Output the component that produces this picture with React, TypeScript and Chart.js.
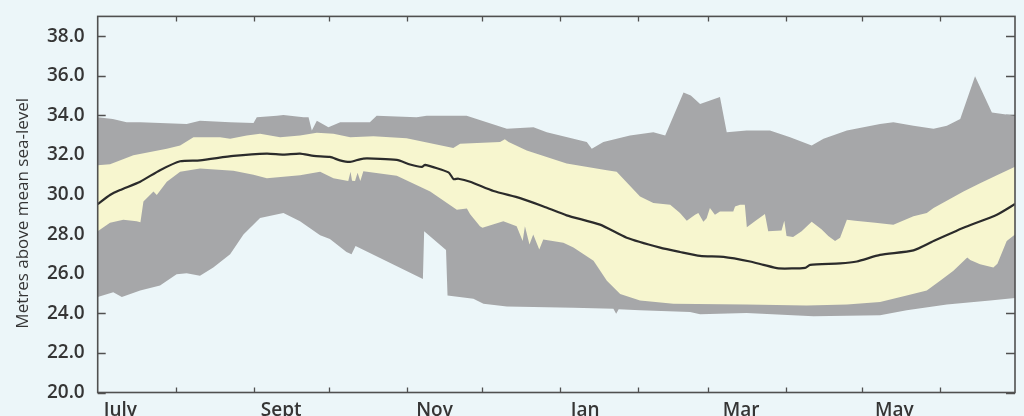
import { useEffect, useRef } from "react";
import { Chart, registerables } from "chart.js";

Chart.register(...registerables);

// x positions are days counted from 1 July (0) to the next 1 July (365)
const monthStartDays = [0, 31, 62, 92, 123, 153, 184, 215, 243, 274, 304, 335, 365];
const monthLabels = ["July", "Sept", "Nov", "Jan", "Mar", "May"];
const monthLabelDays = [9, 73, 134, 194, 256, 317];
const levelTicks = [20, 22, 24, 26, 28, 30, 32, 34, 36, 38];

const grayHighDays = [0, 6, 11.5, 17, 35.4, 40.7, 52.7, 62, 63.3, 71.3, 73.9, 81.9, 83.9, 85.2, 87.2, 91.8, 96.5, 108.3, 111, 126.9, 130.9, 146.8, 162.8, 173.4, 178.7, 194.6, 196.6, 201.2, 211.8, 221.1, 225.8, 233.1, 236, 239.7, 247.6, 250.3, 258.2, 267.5, 275.5, 284.1, 288.8, 298.1, 311.3, 316.6, 324.6, 332.6, 337.9, 343.2, 349.1, 355.8, 365];
const grayHighLevels = [33.9, 33.82, 33.65, 33.65, 33.57, 33.73, 33.65, 33.62, 33.9, 33.98, 34.02, 33.9, 33.9, 33.23, 33.73, 33.4, 33.65, 33.65, 33.98, 33.9, 33.98, 33.98, 33.32, 33.4, 33.15, 32.65, 32.32, 32.65, 32.98, 33.15, 32.98, 35.15, 35.0, 34.57, 34.93, 33.15, 33.23, 33.23, 32.9, 32.48, 32.82, 33.23, 33.57, 33.65, 33.48, 33.32, 33.48, 33.82, 35.98, 34.15, 33.98];

const grayLowDays = [0, 6.2, 9.6, 16.9, 24.8, 31.4, 35.4, 40.7, 46, 52.7, 58, 64.6, 73.9, 80.5, 88.5, 92.4, 99, 101, 102.6, 129.4, 129.9, 138.6, 139.2, 149.5, 153.5, 162.8, 189.3, 205.2, 206.3, 207.3, 215.8, 235.7, 239.7, 258.2, 284.8, 311.3, 321.9, 337.9, 355.1, 365];
const grayLowLevels = [24.82, 25.07, 24.82, 25.15, 25.4, 25.98, 26.02, 25.9, 26.32, 26.98, 27.98, 28.82, 29.07, 28.65, 27.95, 27.75, 27.1, 26.98, 27.4, 25.73, 28.15, 27.2, 24.9, 24.73, 24.48, 24.35, 24.28, 24.23, 23.98, 24.2, 24.15, 24.07, 23.95, 24.02, 23.85, 23.9, 24.15, 24.45, 24.65, 24.77];

const yellowHighDays = [0, 4.9, 14.2, 27.5, 32.8, 38.1, 48.7, 52.7, 59.3, 64.6, 72.6, 80.5, 87.2, 93.8, 100.5, 109.7, 122.9, 141.5, 144.2, 160.1, 162, 163.5, 170.7, 186.6, 202.6, 206.5, 215.8, 221.1, 227.8, 231.7, 234.4, 237.7, 239, 241, 242.3, 243.6, 245.6, 247.6, 252.9, 253.6, 255.6, 257.5, 258.3, 261.5, 265.5, 266.8, 272.1, 273.2, 274.1, 276.7, 280.1, 284.1, 288.1, 290.7, 293.4, 295.4, 298.1, 301.4, 309.4, 316.6, 324.6, 329.9, 332.6, 344.5, 351.1, 357.8, 365];
const yellowHighLevels = [31.48, 31.53, 31.98, 32.32, 32.48, 32.9, 32.9, 32.82, 32.98, 33.07, 32.9, 32.98, 33.12, 33.07, 32.9, 32.95, 32.85, 32.35, 32.57, 32.65, 32.8, 32.65, 32.23, 31.57, 31.23, 31.15, 29.9, 29.57, 29.48, 29.07, 28.68, 28.98, 29.07, 28.62, 28.8, 29.32, 28.98, 29.15, 29.15, 29.4, 29.48, 29.48, 28.35, 28.65, 29.02, 28.15, 28.18, 28.68, 27.9, 27.85, 28.15, 28.62, 28.23, 27.9, 27.65, 27.82, 28.73, 28.68, 28.57, 28.48, 28.9, 29.07, 29.32, 30.15, 30.57, 30.98, 31.4];

const yellowLowDays = [0, 4.9, 10.2, 15.5, 17, 18.2, 22.2, 23.5, 27.5, 32.8, 40.7, 54, 62, 67.3, 80.5, 88.5, 93.8, 99.7, 100.6, 101.2, 102.4, 103.4, 104.5, 105.7, 119, 132.3, 142.9, 146.9, 148.2, 152.1, 153.1, 161.4, 166.7, 169.1, 170, 171.8, 173.3, 175.7, 177.3, 185.3, 189.3, 197.3, 202.6, 207.9, 215.8, 229.1, 258.2, 282.1, 298.1, 311.3, 321.9, 329.9, 335.2, 340.5, 346, 347.2, 351.1, 356.4, 358, 361.7, 365];
const yellowLowLevels = [28.15, 28.57, 28.73, 28.65, 28.6, 29.65, 30.15, 29.98, 30.65, 31.15, 31.32, 31.2, 31.0, 30.82, 30.98, 31.15, 30.82, 30.68, 31.15, 30.7, 30.68, 31.1, 30.68, 31.18, 30.95, 30.15, 29.23, 29.3, 29.0, 28.4, 28.32, 28.65, 28.4, 27.65, 28.4, 27.48, 27.98, 27.23, 27.73, 27.57, 27.32, 26.65, 25.65, 24.98, 24.65, 24.48, 24.45, 24.4, 24.45, 24.57, 24.9, 25.15, 25.65, 26.15, 26.82, 26.7, 26.48, 26.32, 26.5, 27.65, 27.98];

const medianDays = [0, 4.9, 8.9, 16.9, 24.8, 32.8, 40.7, 54, 67.3, 73.9, 80.5, 86, 92.4, 96.4, 100.4, 105.7, 119, 124.3, 129, 130.3, 139.6, 141.6, 143.5, 148.2, 157.5, 168.1, 177.4, 186.6, 199.9, 210.5, 223.8, 231.7, 239.7, 249, 259.6, 264.9, 270.9, 281.5, 283.5, 295.4, 302.1, 311.3, 324.6, 332.6, 344.5, 357.8, 365];
const medianLevels = [29.52, 29.98, 30.23, 30.65, 31.23, 31.68, 31.73, 31.95, 32.07, 32.02, 32.07, 31.95, 31.9, 31.73, 31.65, 31.82, 31.75, 31.52, 31.4, 31.5, 31.12, 30.78, 30.8, 30.65, 30.18, 29.82, 29.4, 28.95, 28.48, 27.82, 27.32, 27.1, 26.9, 26.85, 26.62, 26.45, 26.27, 26.3, 26.45, 26.52, 26.62, 26.95, 27.18, 27.65, 28.32, 28.98, 29.52];

const zip = (days: number[], levels: number[]) => days.map((d, i) => ({ x: d, y: levels[i] }));

const FONT = '"Open Sans", "Noto Sans", sans-serif';
const TEXT = "#353535";
const FRAME = "#505050";

// inward tick marks behind the data, frame on top of it
const frameTicks = {
  id: "frameTicks",
  beforeDatasetsDraw(chart: any) {
    const { ctx, chartArea: a, scales } = chart;
    ctx.save();
    ctx.strokeStyle = FRAME;
    ctx.lineWidth = 1.3;
    ctx.beginPath();
    monthStartDays.slice(1, -1).forEach((d) => {
      const x = Math.round(scales.x.getPixelForValue(d)) + 0.5;
      ctx.moveTo(x, a.top);
      ctx.lineTo(x, a.top + 5);
      ctx.moveTo(x, a.bottom);
      ctx.lineTo(x, a.bottom - 5);
    });
    levelTicks.forEach((v) => {
      const y = Math.round(scales.y.getPixelForValue(v)) + 0.5;
      ctx.moveTo(a.left, y);
      ctx.lineTo(a.left + 8, y);
      ctx.moveTo(a.right, y);
      ctx.lineTo(a.right - 9, y);
    });
    ctx.stroke();
    ctx.restore();
  },
  afterDatasetsDraw(chart: any) {
    const { ctx, chartArea: a } = chart;
    ctx.save();
    ctx.strokeStyle = FRAME;
    ctx.lineWidth = 1.6;
    ctx.strokeRect(a.left, a.top, a.right - a.left, a.bottom - a.top);
    ctx.restore();
  },
};

const App = () => {
  const canvasRef = useRef<HTMLCanvasElement | null>(null);

  useEffect(() => {
    const ctx = canvasRef.current?.getContext("2d");
    if (!ctx) return;

    const band = { borderWidth: 0, pointRadius: 0, tension: 0 };

    const chart = new Chart(ctx, {
      type: "line",
      data: {
        datasets: [
          {
            label: "Median",
            data: zip(medianDays, medianLevels),
            borderColor: "#2b2b2b",
            borderWidth: 2.2,
            pointRadius: 0,
            tension: 0.2,
            fill: false,
          },
          { label: "Yellow high", data: zip(yellowHighDays, yellowHighLevels), backgroundColor: "#f7f6cf", fill: "+1", ...band },
          { label: "Yellow low", data: zip(yellowLowDays, yellowLowLevels), fill: false, ...band },
          { label: "Gray high", data: zip(grayHighDays, grayHighLevels), backgroundColor: "#a6a7a9", fill: "+1", ...band },
          { label: "Gray low", data: zip(grayLowDays, grayLowLevels), fill: false, ...band },
        ],
      },
      options: {
        animation: false,
        responsive: true,
        maintainAspectRatio: false,
        layout: { padding: { top: 13, right: 9, left: 0, bottom: 0 } },
        plugins: {
          legend: { display: false },
          tooltip: { enabled: false },
        },
        scales: {
          x: {
            type: "linear",
            min: 0,
            max: 365,
            grid: { display: false },
            border: { display: false },
            afterBuildTicks: (s: any) => {
              s.ticks = monthLabelDays.map((v) => ({ value: v }));
            },
            afterFit: (s: any) => {
              s.height = 23.5;
            },
            ticks: {
              autoSkip: false,
              maxRotation: 0,
              padding: -1,
              color: TEXT,
              font: { family: FONT, size: 19, weight: "600" },
              callback: (_v: any, i: number) => monthLabels[i],
            },
          },
          y: {
            min: 20,
            max: 39,
            grid: { display: false },
            border: { display: false },
            afterBuildTicks: (s: any) => {
              s.ticks = levelTicks.map((v) => ({ value: v }));
            },
            afterFit: (s: any) => {
              s.width = 97.7;
            },
            ticks: {
              padding: 5,
              color: TEXT,
              font: { family: FONT, size: 19, weight: "600" },
              callback: (v: any) => Number(v).toFixed(1),
            },
            title: {
              display: true,
              text: "Metres above mean sea-level    ",
              color: TEXT,
              font: { family: FONT, size: 17 },
              padding: { top: 13, bottom: 0 },
            },
          },
        },
      },
      plugins: [frameTicks],
    });

    return () => {
      chart.destroy();
    };
  }, []);

  return (
    <div style={{ position: "fixed", left: 0, top: 0, width: 1024, height: 416, background: "#ecf6f9" }}>
      <canvas ref={canvasRef}></canvas>
    </div>
  );
};

export default App;
